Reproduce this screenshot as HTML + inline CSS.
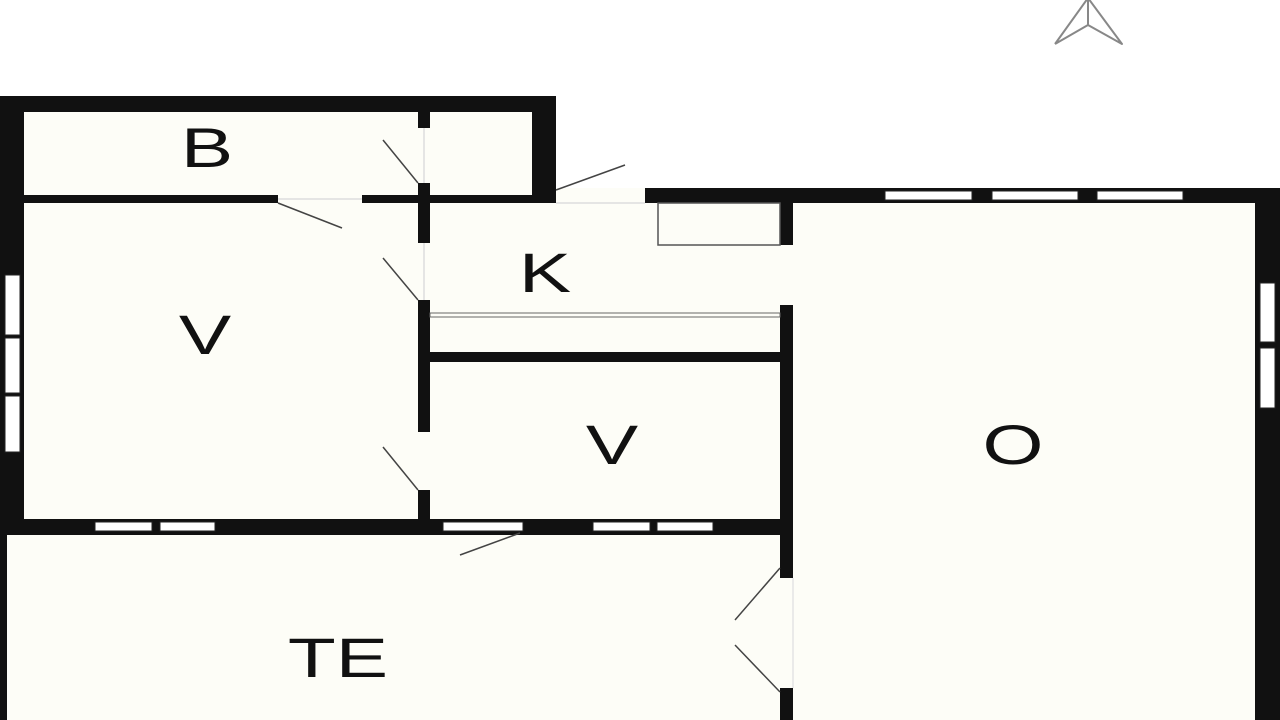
<!DOCTYPE html>
<html><head><meta charset="utf-8"><style>
html,body{margin:0;padding:0;background:#fff;}
svg{display:block}
text{font-family:"Liberation Sans",sans-serif;font-size:56px;fill:#111;text-anchor:middle;dominant-baseline:central}
</style></head><body>
<svg width="1280" height="720" viewBox="0 0 1280 720" xmlns="http://www.w3.org/2000/svg">
<rect width="1280" height="720" fill="#fff"/>
<rect x="0" y="96" width="556" height="624" fill="#fdfdf7"/>
<rect x="556" y="188" width="724" height="532" fill="#fdfdf7"/>
<rect x="556" y="96" width="100" height="92" fill="#fff"/>
<g fill="#111">
<rect x="0" y="96" width="556" height="16"/>
<rect x="532" y="96" width="24" height="107"/>
<rect x="0" y="96" width="24" height="439"/>
<rect x="0" y="535" width="7" height="185"/>
<rect x="24" y="195" width="254" height="8"/>
<rect x="362" y="195" width="170" height="8"/>
<rect x="418" y="112" width="12" height="16"/>
<rect x="418" y="183" width="12" height="60"/>
<rect x="418" y="300" width="12" height="132"/>
<rect x="418" y="490" width="12" height="30"/>
<rect x="645" y="188" width="635" height="15"/>
<rect x="1255" y="188" width="25" height="532"/>
<rect x="780" y="203" width="13" height="42"/>
<rect x="780" y="305" width="13" height="273"/>
<rect x="780" y="688" width="13" height="32"/>
<rect x="430" y="352" width="350" height="10"/>
<rect x="0" y="519" width="793" height="16"/>
</g>
<g fill="#fff" stroke="#222" stroke-width="1">
<rect x="885" y="191" width="87" height="9"/>
<rect x="992" y="191" width="86" height="9"/>
<rect x="1097" y="191" width="86" height="9"/>
<rect x="1260" y="283" width="15" height="59"/>
<rect x="1260" y="348" width="15" height="60"/>
<rect x="5" y="275" width="15" height="60"/>
<rect x="5" y="338" width="15" height="55"/>
<rect x="5" y="396" width="15" height="56"/>
<rect x="95" y="522" width="57" height="9"/>
<rect x="160" y="522" width="55" height="9"/>
<rect x="443" y="522" width="80" height="9"/>
<rect x="593" y="522" width="57" height="9"/>
<rect x="657" y="522" width="56" height="9"/>
</g>
<g stroke="#444" stroke-width="1.5" fill="none">
<rect x="658" y="203" width="122" height="42" stroke="#555"/>
<rect x="430" y="313" width="350" height="4" stroke="#666" stroke-width="1"/>
<line x1="278" y1="203" x2="342" y2="228"/>
<line x1="383" y1="140" x2="418" y2="183"/>
<line x1="383" y1="258" x2="418" y2="300"/>
<line x1="383" y1="447" x2="418" y2="490"/>
<line x1="556" y1="190" x2="625" y2="165"/>
<line x1="460" y1="555" x2="520" y2="533"/>
<line x1="735" y1="620" x2="780" y2="568"/>
<line x1="735" y1="645" x2="780" y2="692"/>
<line x1="278" y1="199" x2="362" y2="199" stroke="#ddd"/>
<line x1="556" y1="203" x2="645" y2="203" stroke="#ddd"/>
<line x1="424" y1="128" x2="424" y2="183" stroke="#ddd"/>
<line x1="424" y1="243" x2="424" y2="300" stroke="#ddd"/>
<line x1="793" y1="578" x2="793" y2="688" stroke="#e4e4e4"/>
</g>
<g stroke="#888" stroke-width="2" fill="none" stroke-linejoin="round">
<polyline points="1055,44 1088,-2 1122,44 1088,25 1055,44"/>
<line x1="1088" y1="0" x2="1088" y2="25"/>
</g>
<text transform="translate(207,148) scale(1.4,1)">B</text>
<text transform="translate(545,273) scale(1.4,1)">K</text>
<text transform="translate(205,335) scale(1.4,1)">V</text>
<text transform="translate(612,445) scale(1.4,1)">V</text>
<text transform="translate(1013,445) scale(1.4,1)">O</text>
<text transform="translate(338,658) scale(1.4,1)">TE</text>
</svg>
</body></html>
